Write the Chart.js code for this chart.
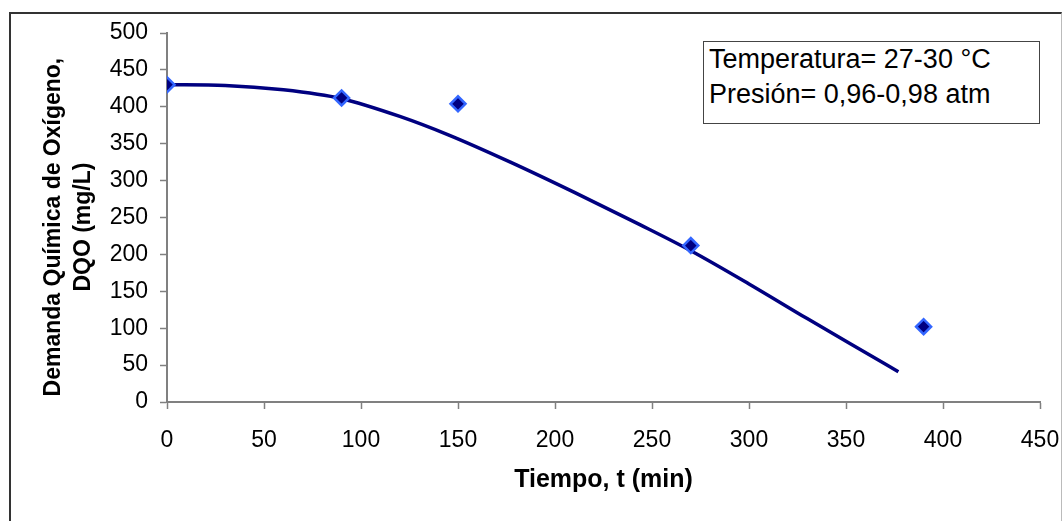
<!DOCTYPE html>
<html>
<head>
<meta charset="utf-8">
<script src="https://cdn.jsdelivr.net/npm/chart.js@4.4.1/dist/chart.umd.min.js"></script>
<style>
  html, body { margin: 0; padding: 0; background: #fff; }
  #wrap { position: relative; width: 1062px; height: 521px; overflow: hidden; }
  #marco { position: absolute; left: 9px; top: 12px; width: 1050px; height: 520px;
           border-left: 2px solid #333; border-top: 2px solid #333; border-right: 1px solid #bbb; }
  #grafico { position: absolute; left: 0; top: 0; }
  #cuadro { position: absolute; left: 703px; top: 41px; width: 330px; height: 81px;
            border: 1px solid #444; background: #fff; padding: 0 0 0 5px;
            font-family: "Liberation Sans", Arial, sans-serif; font-size: 27px; line-height: 35px;
            color: #000; white-space: nowrap; }
</style>
</head>
<body>
<div id="wrap">
  <div id="marco"></div>
  <canvas id="grafico" width="1062" height="521"></canvas>
  <div id="cuadro">Temperatura= 27-30 °C<br>Presión= 0,96-0,98 atm</div>
</div>
<script>
// datos medidos
const tiempo = [0, 90, 150, 270, 390];
const dqo = [430, 412, 404, 212, 102];

// linea de tendencia
const tiempoTend = [0, 30, 60, 90, 120, 145, 177, 210, 244, 270, 300, 330, 360, 377];
const dqoTend = [430, 429, 423, 411, 387, 362, 325, 284, 240, 205, 160, 113, 67, 41];

const ticksX = [0, 50, 100, 150, 200, 250, 300, 350, 400, 450];
const ticksY = [0, 50, 100, 150, 200, 250, 300, 350, 400, 450, 500];

const fuente = '"Liberation Sans", Arial, sans-serif';
const esp = '\u00a0\u00a0\u00a0';

const puntos = tiempo.map((t, i) => ({ x: t, y: dqo[i] }));
const tendencia = tiempoTend.map((t, i) => ({ x: t, y: dqoTend[i] }));

const ctx = document.getElementById('grafico').getContext('2d');
new Chart(ctx, {
  type: 'scatter',
  data: {
    datasets: [
      {
        label: 'DQO',
        data: puntos,
        pointStyle: 'rectRot',
        pointRadius: 7.5,
        backgroundColor: '#000080',
        borderColor: '#3366FF',
        borderWidth: 2.5,
        showLine: false
      },
      {
        label: 'Tendencia',
        data: tendencia,
        showLine: true,
        borderColor: '#000080',
        borderWidth: 3.5,
        pointRadius: 0,
        cubicInterpolationMode: 'monotone',
        fill: false
      }
    ]
  },
  options: {
    responsive: false,
    animation: false,
    layout: { padding: { left: 0, top: 33, right: 0, bottom: 0 } },
    plugins: {
      legend: { display: false },
      tooltip: { enabled: false }
    },
    scales: {
      x: {
        type: 'linear',
        min: 0,
        max: 450,
        afterBuildTicks: (s) => { s.ticks = ticksX.map(v => ({ value: v })); },
        afterFit: (s) => { s.height = 119; s.paddingRight = 22; s.paddingLeft = 0; },
        ticks: { color: '#000', padding: 18, font: { family: fuente, size: 23 } },
        grid: { drawOnChartArea: false, tickLength: 7, color: '#808080', tickWidth: 1.5 },
        border: { color: '#808080', width: 2 },
        title: {
          display: true,
          text: 'Tiempo, t (min)',
          color: '#000',
          font: { family: fuente, size: 25, weight: 'bold' },
          padding: { top: 0, bottom: 26 }
        }
      },
      y: {
        min: 0,
        max: 500,
        afterBuildTicks: (s) => { s.ticks = ticksY.map(v => ({ value: v })); },
        afterFit: (s) => { s.width = 167; },
        ticks: { color: '#000', padding: 12, font: { family: fuente, size: 23 } },
        grid: { drawOnChartArea: false, tickLength: 7, color: '#808080', tickWidth: 1.5 },
        border: { color: '#808080', width: 2 },
        title: {
          display: true,
          text: ['Demanda Química de Oxígeno,' + esp, 'DQO (mg/L)' + esp],
          color: '#000',
          font: { family: fuente, size: 23, weight: 'bold', lineHeight: 1.3 },
          padding: { top: 39, bottom: 0 }
        }
      }
    }
  }
});
</script>
</body>
</html>
